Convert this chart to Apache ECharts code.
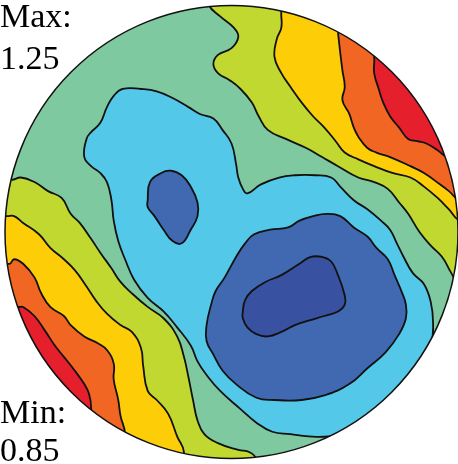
<!DOCTYPE html>
<html><head><meta charset="utf-8">
<script src="https://cdn.jsdelivr.net/npm/echarts@6/dist/echarts.min.js"></script>
<style>html,body{margin:0;padding:0;background:#fff}#chart{width:458px;height:464px}</style>
</head><body><div id="chart"></div>
<script>
// Pole figure on an equal-area net. Coordinates are in the projection plane,
// scaled so the primitive circle has radius 100 (x = east, y = north).
const contourLevels = [0.90, 0.95, 1.00, 1.05, 1.10, 1.15, 1.20];
const levelColors = ['#3851a0', '#4169b1', '#53c8e9', '#7fc9a0', '#c0d830', '#fdcd08', '#f26623', '#e51f2b'];
const maxValue = 1.25;
const minValue = 0.85;

// High-density band, north-east
const above105NE = [[-11,108],[-10,100],[-5,95],[1,90],[3,86],[0,81],[-6,78],[-8,74],[-6,70],[-1,67],[4,63],[9,57],[12,51],[16,45],[24,41],[33,37],[40,33],[47,29],[56,24],[63,22],[69,19],[74,13],[78,8],[83,0],[88,-6],[93,-11],[97,-18],[101,-24],[115,-30],[115,115],[-12,115]];
const above110NE = [[23,104],[22,97],[22,90],[20,85],[19,77],[22,70],[26,64],[31,57],[36,51],[41,46],[46,40],[50,35],[56,32],[63,29],[71,26],[79,24],[85,20],[91,15],[96,10],[101,5],[115,5],[115,115],[23,115]];
const above115NE = [[46,96],[47,88],[48,79],[49,71],[50,64],[49,58],[52,52],[54,46],[56,42],[60,37],[64,35],[70,33],[79,29],[85,26],[92,21],[96,18],[101,14],[115,14],[115,115],[46,115]];
const above120NE = [[62,82],[63,77],[63,70],[65,63],[67,57],[70,51],[74,46],[78,41],[82,40],[86,39],[91,36],[95,33],[105,30],[105,105],[62,105]];

// High-density band, south-west
const above105SW = [[-104,24],[-97,23],[-93,24],[-87,22],[-81,18],[-75,15],[-71,8],[-67,4],[-62,-3],[-58,-9],[-53,-16],[-49,-22],[-44,-27],[-37,-33],[-30,-38],[-24,-46],[-21,-55],[-19,-64],[-17,-74],[-15,-83],[-12,-89],[-6,-93],[3,-96],[8,-97],[11,-100],[13,-110],[-110,-110],[-110,24]];
const above110SW = [[-105,7],[-99,7],[-96,7],[-92,4],[-85,-1],[-80,-7],[-74,-12],[-69,-17],[-64,-24],[-60,-30],[-55,-36],[-49,-41],[-44,-44],[-40,-51],[-39,-59],[-37,-70],[-33,-74],[-28,-80],[-24,-90],[-21,-97],[-22,-110],[-110,-110],[-110,7]];
const above115SW = [[-105,-13],[-98,-14],[-96,-12],[-92,-14],[-87,-20],[-84,-27],[-80,-33],[-74,-37],[-71,-41],[-65,-46],[-59,-49],[-55,-52],[-52,-58],[-52,-65],[-50,-74],[-49,-81],[-47,-89],[-48,-110],[-110,-110],[-110,-13]];
const above120SW = [[-100,-31],[-94,-33],[-92,-33],[-87,-37],[-82,-44],[-78,-50],[-74,-55],[-70,-60],[-65,-67],[-63,-71],[-62,-77],[-63,-90],[-110,-90],[-110,-31]];

// Low-density basin
const below100 = [[-64,41],[-62,44],[-58,48],[-55,55],[-52,60],[-48,63],[-40,63],[-33,62],[-26,59],[-19,55],[-14,52],[-8,50],[-4,45],[0,39],[2,30],[3,24],[5,19],[7,17],[13,21],[21,24],[28,25],[37,25],[44,24],[48,20],[54,14],[60,10],[66,5],[70,1],[73,-5],[76,-11],[80,-18],[85,-23],[88,-31],[89,-40],[88,-49],[82,-59],[77,-67],[69,-76],[60,-84],[52,-88],[43,-90],[34,-90],[26,-89],[18,-88],[11,-84],[4,-78],[-5,-70],[-11,-63],[-15,-57],[-18,-50],[-24,-42],[-30,-35],[-37,-29],[-43,-21],[-47,-12],[-50,-4],[-52,5],[-53,14],[-55,22],[-58,26],[-62,29],[-65,33]];
const below095S = [[10,-1],[17,1],[25,2],[30,5],[36,7],[42,8],[48,7],[54,2],[60,-2],[64,-7],[69,-12],[72,-19],[75,-26],[77,-32],[77,-38],[74,-45],[68,-53],[60,-60],[52,-67],[41,-72],[31,-74],[19,-74],[11,-73],[2,-67],[-4,-61],[-8,-54],[-11,-48],[-11,-41],[-9,-32],[-7,-26],[-3,-20],[2,-11],[6,-5]];
const below095N = [[-37,14],[-36,22],[-31,26],[-27,27],[-22,25],[-18,20],[-15,13],[-15,7],[-18,1],[-22,-5],[-26,-4],[-30,1],[-34,7],[-37,11]];
const below090 = [[5,-35],[6,-30],[9,-26],[15,-22],[22,-19],[30,-14],[35,-11],[40,-11],[44,-13],[47,-19],[50,-28],[50,-32],[47,-35],[41,-37],[34,-39],[28,-41],[22,-44],[16,-46],[11,-45],[7,-42],[5,-38]];

// Regions painted in order; each one is the set above / below a contour level.
const regions = [
  { pts: above105NE, level: 1.05, side: 'above' },
  { pts: above110NE, level: 1.10, side: 'above' },
  { pts: above115NE, level: 1.15, side: 'above' },
  { pts: above120NE, level: 1.20, side: 'above' },
  { pts: above105SW, level: 1.05, side: 'above' },
  { pts: above110SW, level: 1.10, side: 'above' },
  { pts: above115SW, level: 1.15, side: 'above' },
  { pts: above120SW, level: 1.20, side: 'above' },
  { pts: below100, level: 1.00, side: 'below' },
  { pts: below095S, level: 0.95, side: 'below' },
  { pts: below095N, level: 0.95, side: 'below' },
  { pts: below090, level: 0.90, side: 'below' }
];

function colorFor(r) {
  const i = contourLevels.indexOf(r.level);
  return levelColors[r.side === 'above' ? i + 1 : i];
}

const chart = echarts.init(document.getElementById('chart'), null, { renderer: 'canvas' });
const NET_R = 100;
const serif = '"Liberation Serif", "DejaVu Serif", serif';
const labelFont = '34px ' + serif;

chart.setOption({
  animation: false,
  backgroundColor: '#ffffff',
  grid: { left: 5, top: 5, width: 454, height: 454 },
  xAxis: { type: 'value', min: -NET_R, max: NET_R, show: false },
  yAxis: { type: 'value', min: -NET_R, max: NET_R, show: false },
  graphic: {
    elements: [
      { type: 'text', z: 100, left: 0, top: 1, style: { text: 'Max:', font: labelFont, fill: '#000' } },
      { type: 'text', z: 100, left: 0, top: 43, style: { text: maxValue.toFixed(2), font: labelFont, fill: '#000' } },
      { type: 'text', z: 100, left: 0, top: 397, style: { text: 'Min:', font: labelFont, fill: '#000' } },
      { type: 'text', z: 100, left: 0, top: 435, style: { text: minValue.toFixed(2), font: labelFont, fill: '#000' } }
    ]
  },
  series: [
    {
      // background level of the net, between 1.00 and 1.05
      type: 'custom',
      coordinateSystem: 'cartesian2d',
      data: [[0, 0]],
      z: 1,
      renderItem: function (params, api) {
        const c = api.coord([0, 0]);
        const r = api.coord([NET_R, 0])[0] - c[0];
        return { type: 'circle', shape: { cx: c[0], cy: c[1], r: r }, style: { fill: levelColors[3] } };
      }
    },
    {
      type: 'custom',
      coordinateSystem: 'cartesian2d',
      data: regions.map(function (r, i) { return [i]; }),
      z: 2,
      renderItem: function (params, api) {
        const r = regions[params.dataIndex];
        const points = r.pts.map(function (p) { return api.coord(p); });
        return {
          type: 'polygon',
          shape: { points: points, smooth: 0.45 },
          style: { fill: colorFor(r), stroke: '#111', lineWidth: 1.8 }
        };
      }
    },
    {
      // primitive circle: trims the contour fills and draws the rim
      type: 'custom',
      coordinateSystem: 'cartesian2d',
      data: [[0, 0]],
      z: 3,
      renderItem: function (params, api) {
        const c = api.coord([0, 0]);
        const r = api.coord([NET_R, 0])[0] - c[0];
        return {
          type: 'group',
          children: [
            { type: 'circle', shape: { cx: c[0], cy: c[1], r: r + 150 }, style: { fill: 'none', stroke: '#ffffff', lineWidth: 300 } },
            { type: 'circle', shape: { cx: c[0], cy: c[1], r: r }, style: { fill: 'none', stroke: '#111', lineWidth: 1.5 } }
          ]
        };
      }
    }
  ]
});
</script>
</body></html>
